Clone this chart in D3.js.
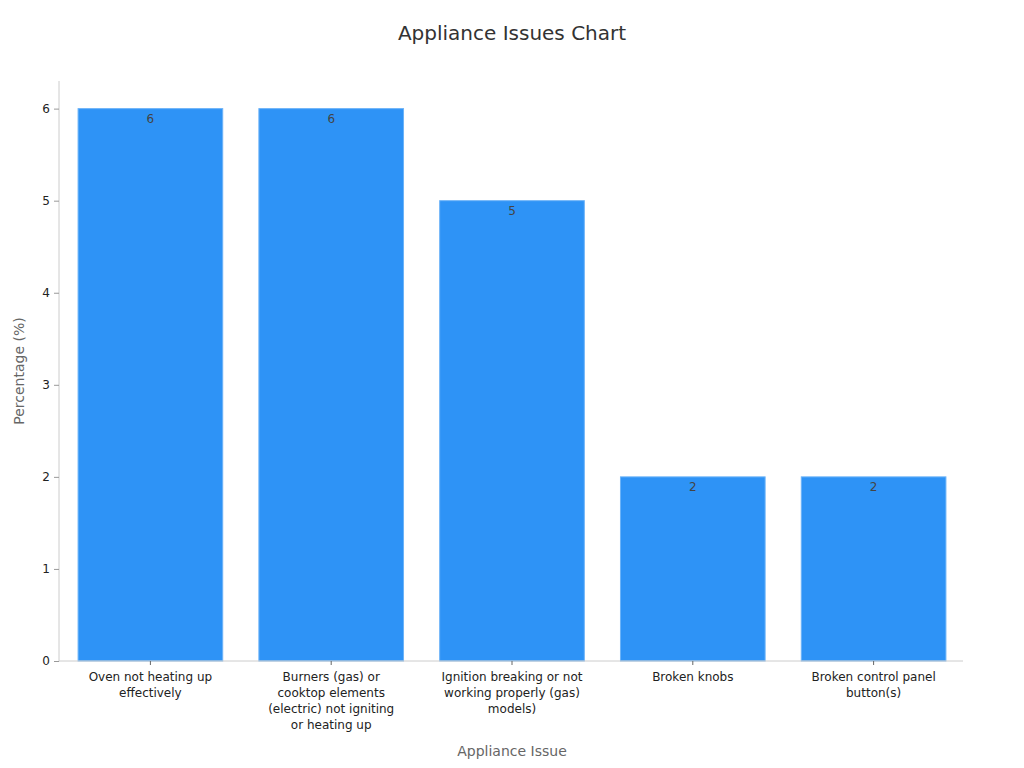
<!DOCTYPE html>
<html><head><meta charset="utf-8">
<script src="https://cdn.jsdelivr.net/npm/d3@7"></script>
<style>body{margin:0;background:#fff;font-family:"DejaVu Sans",sans-serif;}</style>
</head><body>
<svg id="c" width="1024" height="768"></svg>
<script>
const categories = ["Oven not heating up effectively","Burners (gas) or cooktop elements (electric) not igniting or heating up","Ignition breaking or not working properly (gas) models)","Broken knobs","Broken control panel button(s)"];
const labelLines = [["Oven not heating up","effectively"],["Burners (gas) or","cooktop elements","(electric) not igniting","or heating up"],["Ignition breaking or not","working properly (gas)","models)"],["Broken knobs"],["Broken control panel","button(s)"]];
const values = [6,6,5,2,2];
const yTicks = [0,1,2,3,4,5,6];

const svg = d3.select("#c");
const m = {l:59, r:963, t:81, b:661};
const x = d3.scaleBand().domain(categories).range([m.l + 1, m.r + 1]).paddingInner(0.2).paddingOuter(0.1);
const y = d3.scaleLinear().domain([0,6.3]).range([m.b, m.t]);

svg.append("text").attr("x",512).attr("y",40).attr("text-anchor","middle")
  .attr("font-size",20).attr("fill","#333").text("Appliance Issues Chart");

// bars
svg.selectAll("rect.bar").data(values).join("rect")
  .attr("x",(d,i)=>x(categories[i])).attr("width",x.bandwidth())
  .attr("y",d=>y(d)).attr("height",d=>y(0)-y(d))
  .attr("fill","#2E93F6").attr("stroke","#6CB3F8").attr("stroke-width",1);

svg.selectAll("text.val").data(values).join("text")
  .attr("x",(d,i)=>x(categories[i])+x.bandwidth()/2).attr("y",d=>y(d)+14)
  .attr("text-anchor","middle").attr("font-size",12).attr("fill","#444").text(d=>d);

// y axis
const ya = svg.append("g").attr("transform",`translate(${m.l},0)`)
  .call(d3.axisLeft(y).tickValues(yTicks).tickSize(5).tickPadding(4).tickFormat(d3.format("d")));
ya.select(".domain").attr("stroke","#ccc").attr("d",`M0,${m.t}V${m.b}`);
ya.selectAll(".tick line").attr("stroke","#999");
ya.selectAll(".tick text").attr("font-size",12).attr("fill","#222").attr("font-family","DejaVu Sans");

// x axis
const xa = svg.append("g").attr("transform",`translate(0,${m.b})`)
  .call(d3.axisBottom(x).tickSize(4).tickFormat(""));
xa.select(".domain").attr("stroke","#ccc").attr("d",`M${m.l},0H${m.r}`);
xa.selectAll(".tick line").attr("stroke","#666");
xa.selectAll(".tick").each(function(d,i){
  const t = d3.select(this).append("text").attr("fill","#222").attr("font-size",12)
    .attr("font-family","DejaVu Sans").attr("text-anchor","middle");
  labelLines[i].forEach((ln,j)=>t.append("tspan").attr("x",0).attr("y",20+j*16).text(ln));
});

svg.append("text").attr("x",512).attr("y",756).attr("text-anchor","middle")
  .attr("font-size",14).attr("fill","#666").text("Appliance Issue");
svg.append("text").attr("transform","translate(24,371) rotate(-90)").attr("text-anchor","middle")
  .attr("font-size",14).attr("fill","#666").text("Percentage (%)");
</script>
</body></html>
